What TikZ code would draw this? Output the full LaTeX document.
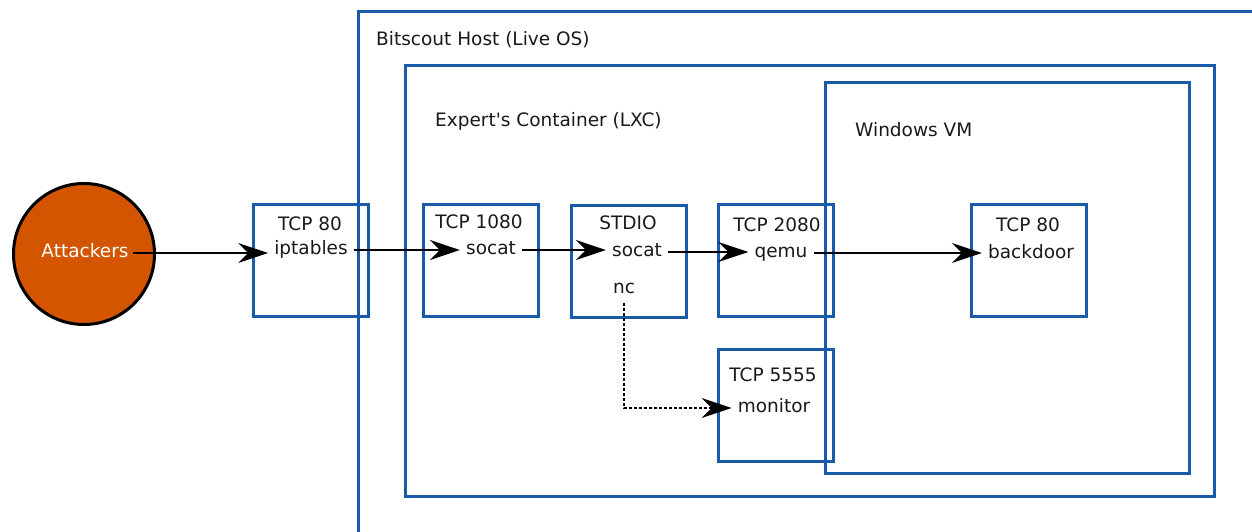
\documentclass[tikz,border=0pt]{standalone}
\usepackage{fontspec}
\setmainfont{DejaVu Sans}[Ligatures=TeXOff]
\usetikzlibrary{arrows.meta}
\definecolor{frameblue}{RGB}{26,90,170}
\definecolor{attorange}{RGB}{212,85,0}
\definecolor{txt}{RGB}{25,25,25}
\begin{document}
\begin{tikzpicture}[x=1pt,y=-1pt,
  lbl/.style={font=\fontsize{18.5}{21}\selectfont, text=txt, inner sep=0pt},
  item/.style={font=\fontsize{18.5}{21}\selectfont, text=txt, inner xsep=6pt, inner ysep=0pt, text height=13.5pt, text depth=4pt},
  portbox/.style={draw=frameblue, line width=3pt, minimum width=115pt, minimum height=112pt, inner sep=0pt},
  frame/.style={draw=frameblue, line width=3pt},
  flow/.style={line width=2pt, -{Stealth[length=30pt,width=20pt,inset=10pt]}},
  monitorflow/.style={line width=1.7pt, dash pattern=on 3pt off 2pt, -{Stealth[length=30pt,width=20pt,inset=10pt]}}
]
\useasboundingbox (0,0) rectangle (1252,531);
\begin{scope}
\clip (0,0) rectangle (1252,531);
% host frame (extends beyond the picture)
\draw[frame] (358,540) -- (358,11) -- (1260,11);
\end{scope}
\node[frame, minimum width=809pt, minimum height=431pt, inner sep=0pt] (container) at (809.5,280.5) {};
\node[frame, minimum width=364pt, minimum height=391pt, inner sep=0pt] (vm) at (1007,277.5) {};

\node[lbl, anchor=west] (hostlbl) at (376,40) {Bitscout Host (Live OS)};
\node[lbl, anchor=west] (contlbl) at (435,121) {Expert's Container (LXC)};
\node[lbl, anchor=west] (vmlbl) at (855,130) {Windows VM};

% attackers
\node[circle, draw=black, line width=3pt, fill=attorange, minimum size=141pt, inner sep=0pt] (att) at (84,254) {};
\node[item, text=white, inner xsep=4pt] (atttxt) at (85,253) {Attackers};

% port boxes
\node[portbox] (b1) at (310.5,260) {};
\node[portbox] (b2) at (481,260) {};
\node[portbox] (b3) at (628.5,261) {};
\node[portbox] (b4) at (776,260) {};
\node[portbox] (b5) at (776,405) {};
\node[portbox] (b6) at (1028.5,260) {};

\node[lbl] (b1t) at (310,224) {TCP 80};
\node[item] (iptables) at (311,250) {iptables};
\node[lbl] (b2t) at (479,222) {TCP 1080};
\node[item] (socat1) at (491,250) {socat};
\node[lbl] (b3t) at (628,223) {STDIO};
\node[item] (socat2) at (637,252) {socat};
\node[item, inner ysep=5pt] (nc) at (624,289) {nc};
\node[lbl] (b4t) at (777,225) {TCP 2080};
\node[item] (qemu) at (781,253) {qemu};
\node[lbl] (b5t) at (773,375) {TCP 5555};
\node[item] (monitor) at (774,408) {monitor};
\node[lbl] (b6t) at (1028,225) {TCP 80};
\node[item] (backdoor) at (1031,254) {backdoor};

\draw[flow] (atttxt.east) -- (atttxt.east -| iptables.west);
\draw[flow] (iptables.east) -- (iptables.east -| socat1.west);
\draw[flow] (socat1.east) -- (socat1.east -| socat2.west);
\draw[flow] (socat2.east) -- (socat2.east -| qemu.west);
\draw[flow] (qemu.east) -- (qemu.east -| backdoor.west);
\draw[monitorflow] (nc.south) |- (monitor.west);
\end{tikzpicture}
\end{document}
